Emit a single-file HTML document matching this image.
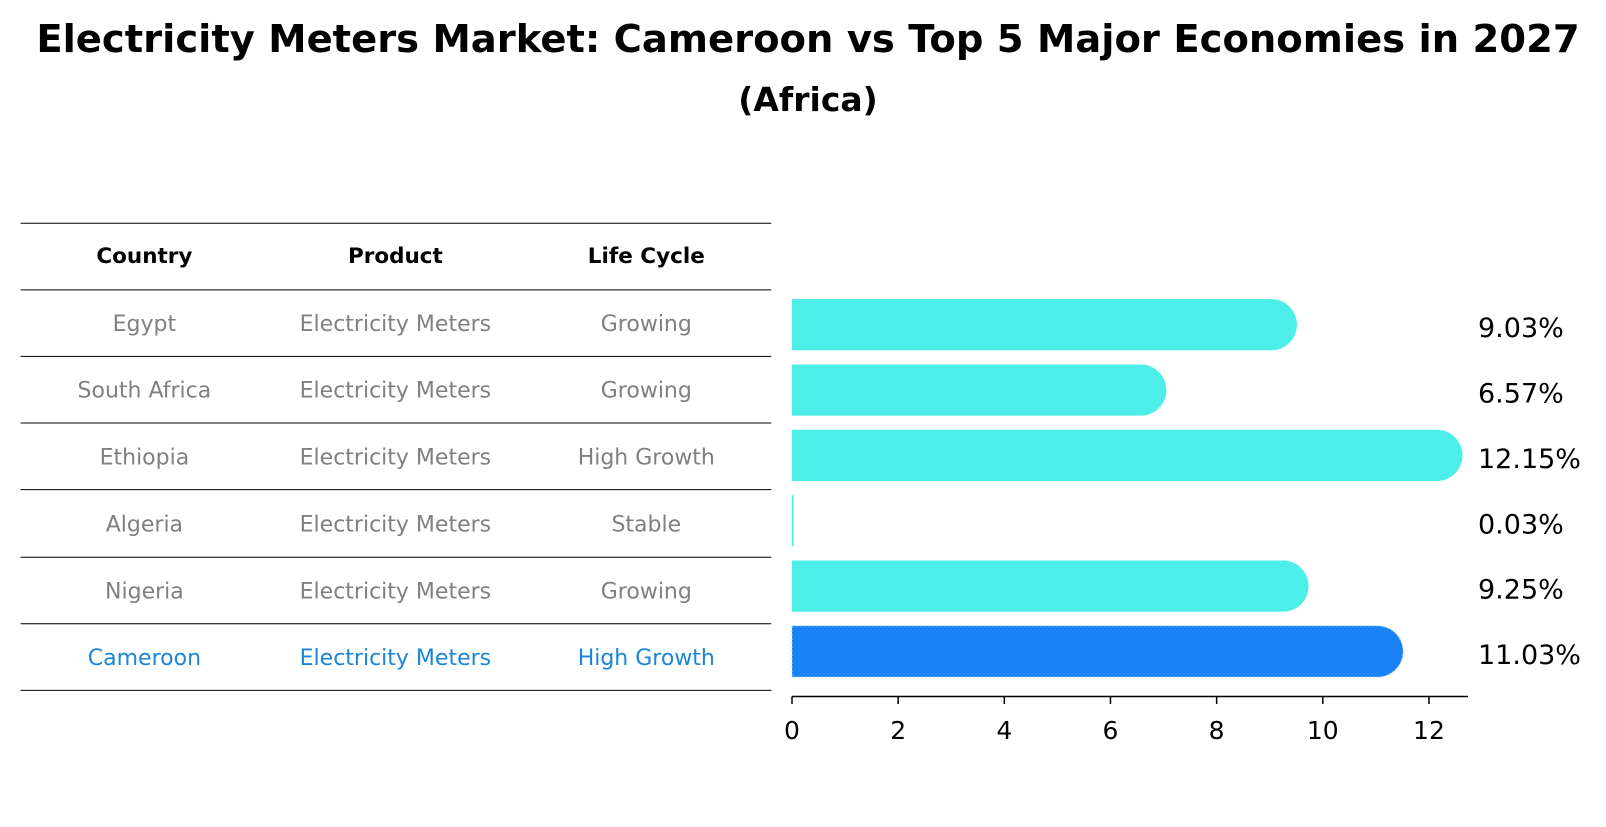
<!DOCTYPE html>
<html><head><meta charset="utf-8"><style>
body{margin:0;background:#fff;width:1606px;height:823px;overflow:hidden;font-family:"DejaVu Sans","Liberation Sans",sans-serif}
</style></head><body>
<svg width="1606" height="823" font-family="DejaVu Sans, Liberation Sans, sans-serif">
<text x="808" y="52" text-anchor="middle" font-size="38.5" font-weight="bold">Electricity Meters Market: Cameroon vs Top 5 Major Economies in 2027</text>
<text x="808" y="111" text-anchor="middle" font-size="33" font-weight="bold">(Africa)</text>
<g id="table"></g>
<g id="bars"></g>
<g id="axis"></g>
</svg>
<script>
const countries=["Egypt","South Africa","Ethiopia","Algeria","Nigeria","Cameroon"];
const products=["Electricity Meters","Electricity Meters","Electricity Meters","Electricity Meters","Electricity Meters","Electricity Meters"];
const lifecycles=["Growing","Growing","High Growth","Stable","Growing","High Growth"];
const values=[9.03,6.57,12.15,0.03,9.25,11.03];
const ticks=[0,2,4,6,8,10,12];
const NS="http://www.w3.org/2000/svg";
function mk(tag,attrs,parent){const e=document.createElementNS(NS,tag);for(const k in attrs)e.setAttribute(k,attrs[k]);parent.appendChild(e);return e;}
const x=v=>792+v*53.08;
const rowY=i=>324.7+i*65.35;
const table=document.getElementById('table');
const lineYs=[223.3,289.9,356.4,423,489.6,557.2,623.8,690.4];
lineYs.forEach(y=>{const l=mk('line',{x1:20.5,x2:771.3,y1:y,y2:y,stroke:'#000','stroke-width':1},table);

});
const colX=[144.4,395.4,646.3];
["Country","Product","Life Cycle"].forEach((h,j)=>{const t=mk('text',{x:colX[j],y:263,'text-anchor':'middle','font-size':21.5,'font-weight':'bold'},table);t.textContent=h;

});
countries.forEach((c,i)=>{
 const y=(lineYs[i+1]+lineYs[i+2])/2+8;
 const col=i===countries.length-1?'#1a86d8':'#808080';
 [c,products[i],lifecycles[i]].forEach((v,j)=>{const t=mk('text',{x:colX[j],y:y,'text-anchor':'middle','font-size':22,fill:col},table);t.textContent=v;
 
 });
});
const bars=document.getElementById('bars');
values.forEach((v,i)=>{
 const cy=rowY(i),h=51.2,r=25.6;
 const last=i===values.length-1;
 const fill=last?'#1a82f5':'#4deeea';
 const g=mk('g',{},bars);
 
 
 if(v<0.5){mk('rect',{x:x(0),y:cy-h/2,width:Math.max(1.5,x(v)-x(0)),height:h,fill:fill},g);}
 else{
  const xe=x(v);
  mk('path',{d:`M${x(0)},${cy-h/2} H${xe} A${r},${r} 0 0 1 ${xe},${cy+h/2} H${x(0)} Z`,fill:fill,stroke:last?'#9cd0ff':'none','stroke-dasharray':last?'2 2':'','stroke-width':1},g);
 }
 const t=mk('text',{x:1478,y:cy+12.5,'font-size':27},bars);t.textContent=v.toFixed(2)+'%';
 
 
});
const axis=document.getElementById('axis');
mk('line',{x1:792,x2:1468,y1:696.5,y2:696.5,stroke:'#000','stroke-width':1.5},axis);
ticks.forEach(tv=>{mk('line',{x1:x(tv),x2:x(tv),y1:696.5,y2:704,stroke:'#000','stroke-width':1.5},axis);
 const t=mk('text',{x:x(tv),y:739,'text-anchor':'middle','font-size':25},axis);t.textContent=tv;
 
 });
</script>
</body></html>
